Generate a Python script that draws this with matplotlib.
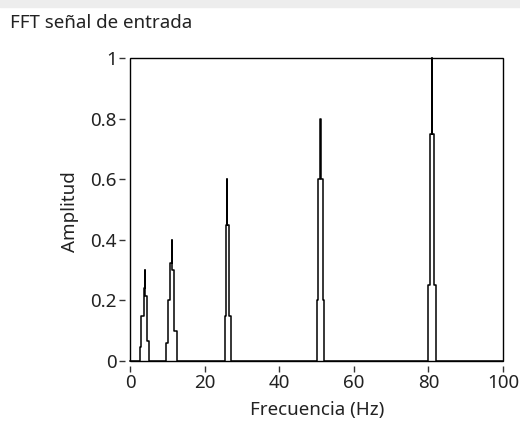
import matplotlib
matplotlib.use("Agg")
import matplotlib.pyplot as plt
from matplotlib.patches import Rectangle

plt.rcParams['font.family'] = ['Noto Sans', 'DejaVu Sans']

# FFT trace vertices (Hz, amplitude), drawn as steps
freq = [0, 2.7, 3.05, 3.75, 4.0, 4.1, 4.45, 5.1,
        9.75, 10.3, 10.75, 11.2, 11.3, 11.85, 12.55,
        25.4, 25.7, 26.05, 26.1, 26.65, 27.0,
        50.1, 50.35, 51.05, 51.1, 51.7, 51.95,
        79.9, 80.4, 81.0, 81.05, 81.55, 82.0, 100]
amp = [0, 0.045, 0.15, 0.24, 0.30, 0.215, 0.065, 0,
       0.06, 0.2, 0.325, 0.40, 0.30, 0.10, 0,
       0.15, 0.45, 0.60, 0.45, 0.15, 0,
       0.2, 0.6, 0.8, 0.6, 0.2, 0,
       0.25, 0.75, 1.0, 0.75, 0.25, 0, 0]

xticks = [0, 20, 40, 60, 80, 100]
xlabels = ['0', '20', '40', '60', '80', '100']
yticks = [0, 0.2, 0.4, 0.6, 0.8, 1.0]
ylabels = ['0', '0.2', '0.4', '0.6', '0.8', '1']

W, H = 520, 430
FS = 13.5
fig = plt.figure(figsize=(W / 100, H / 100), dpi=100)
fig.patch.set_facecolor('white')

# light grey strip at the top of the screenshot
fig.patches.append(Rectangle((0, 1 - 7 / H), 1, 7 / H, transform=fig.transFigure,
                             color='#ededed', zorder=0))

ax = fig.add_axes([130 / W, 1 - 361 / H, (503 - 130) / W, (361 - 58) / H])
ax.set_xlim(0, 100)
ax.set_ylim(0, 1)

ax.plot(freq, amp, drawstyle='steps-post', color='black', lw=1.1,
        clip_on=False, zorder=4)

# plot frame, scales sit a bit away from it
ax.add_patch(Rectangle((0, 0), 1, 1, transform=ax.transAxes, fill=False,
                       ec='black', lw=1, clip_on=False, zorder=3))
for s in ['top', 'right']:
    ax.spines[s].set_visible(False)
for s in ['left', 'bottom']:
    ax.spines[s].set_position(('outward', 3.5))
    ax.spines[s].set_visible(False)

ax.set_xticks(xticks)
ax.set_xticklabels(xlabels)
ax.set_yticks(yticks)
ax.set_yticklabels(ylabels)
ax.tick_params(direction='out', length=4.5, width=1, color='#333333',
               labelsize=FS, labelcolor='#222222', pad=1.5)

fig.text(317 / W, 1 - 410 / H, 'Frecuencia (Hz)', ha='center', va='center',
         fontsize=FS, color='#222222')
fig.text(70 / W, 1 - 212 / H, 'Amplitud', ha='center', va='center',
         rotation=90, fontsize=FS, color='#222222')
fig.text(10 / W, 1 - 23 / H, 'FFT señal de entrada', ha='left', va='center',
         fontsize=FS, color='#222222')

fig.savefig('out.png', dpi=100, facecolor=fig.get_facecolor())
